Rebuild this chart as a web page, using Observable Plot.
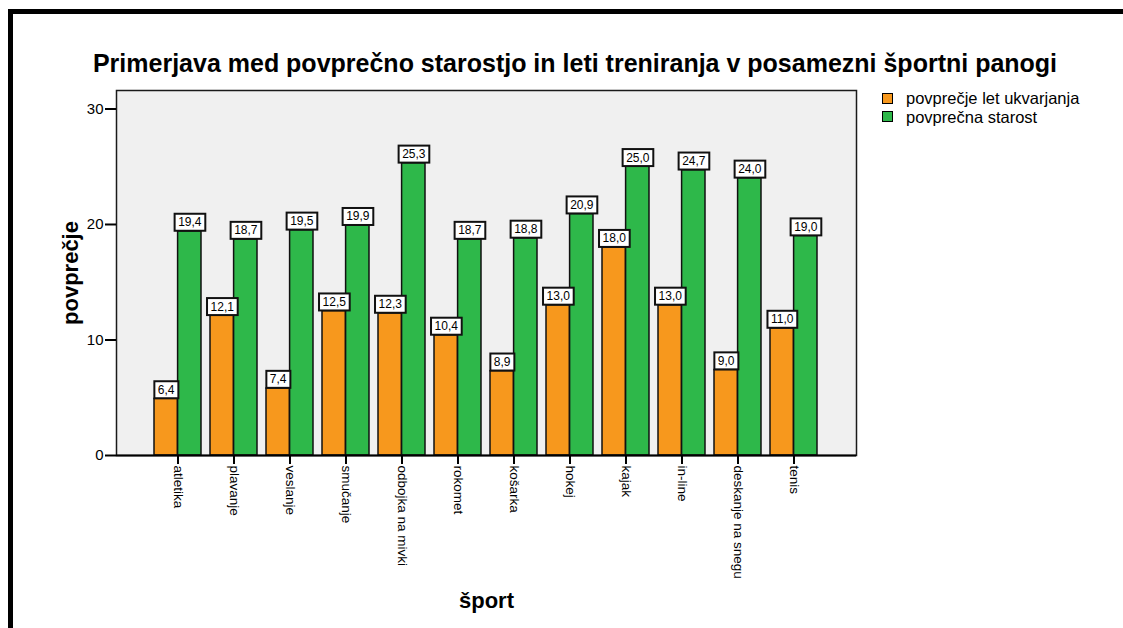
<!DOCTYPE html>
<html><head><meta charset="utf-8">
<script src="https://cdn.jsdelivr.net/npm/d3@7"></script>
<script src="https://cdn.jsdelivr.net/npm/@observablehq/plot@0.6"></script>
<style>
body{margin:0;background:#fff;}
#wrap{position:relative;width:1123px;height:628px;overflow:hidden;font-family:Arial,"Liberation Sans",sans-serif;color:#000;}
#border{position:absolute;left:8px;top:9px;right:-10px;bottom:-10px;border-left:5px solid #000;border-top:5px solid #000;}
#title{position:absolute;left:0;width:1150px;top:48px;text-align:center;font-weight:bold;font-size:25px;line-height:30px;white-space:nowrap;}
#legend{position:absolute;left:882px;top:89px;font-size:16.5px;line-height:18.5px;}
#legend .item{display:flex;align-items:center;white-space:nowrap;}
#legend .sw{width:9px;height:9px;border:1.5px solid #000;margin-right:13px;}
#chart{position:absolute;left:0;top:0;}
g[aria-label="y-axis label"] text, g[aria-label="x-axis label"] text{font-weight:bold;font-size:22px;}
g[aria-label="y-axis tick"], g[aria-label="x-axis tick"]{stroke-width:2px;}
</style>
</head><body>
<div id="wrap">
  <div id="border"></div>
  <div id="chart"></div>
  <div id="title"></div>
  <div id="legend"></div>
</div>
<script>
const titleText = "Primerjava med povprečno starostjo in leti treniranja v posamezni športni panogi";
const sports = ["atletika","plavanje","veslanje","smučanje","odbojka na mivki","rokomet","košarka","hokej","kajak","in-line","deskanje na snegu","tenis"];
const seriesNames = ["povprečje let ukvarjanja","povprečna starost"];
const seriesColors = ["#F7981D","#2EB84A"];
// bar heights as drawn in the picture
const yearsBar = [4.9,12.1,5.8,12.5,12.3,10.4,7.3,13.0,18.0,13.0,7.4,11.0];
// values printed in the label boxes
const yearsLabel = [6.4,12.1,7.4,12.5,12.3,10.4,8.9,13.0,18.0,13.0,9.0,11.0];
const ageBar = [19.4,18.7,19.5,19.9,25.3,18.7,18.8,20.9,25.0,24.7,24.0,19.0];
const ageLabel = [19.4,18.7,19.5,19.9,25.3,18.7,18.8,20.9,25.0,24.7,24.0,19.0];
const yTicks = [0,10,20,30];

document.getElementById("title").textContent = titleText;
const leg = document.getElementById("legend");
seriesNames.forEach((n,i)=>{
  const it = document.createElement("div"); it.className="item";
  const sw = document.createElement("div"); sw.className="sw"; sw.style.background=seriesColors[i];
  const t = document.createElement("span"); t.textContent=n;
  it.appendChild(sw); it.appendChild(t); leg.appendChild(it);
});

const W=1123,H=628,mL=116,mR=267,mT=90,mB=173;
const pI=0.16, pO=0.665;
const step=(W-mL-mR)/(sports.length - pI + 2*pO);
const bw=step*(1-pI);
const years = sports.map((s,i)=>({sport:s, v:yearsBar[i], lab:yearsLabel[i]}));
const ages = sports.map((s,i)=>({sport:s, v:ageBar[i], lab:ageLabel[i]}));
const fmt = v => v.toFixed(1).replace(".", ",");

const chart = Plot.plot({
  width:W, height:H, marginLeft:mL, marginRight:mR, marginTop:mT, marginBottom:mB,
  style:{fontFamily:'Arial, "Liberation Sans", sans-serif', fontSize:"13px", background:"transparent", color:"#000", overflow:"visible"},
  x:{domain:sports, paddingInner:pI, paddingOuter:pO},
  y:{domain:[0,31.6]},
  marks:[
    Plot.frame({fill:"#f0f0f0", stroke:null}),
    Plot.barY(years,{x:"sport", y:"v", fill:seriesColors[0], stroke:"#111", strokeWidth:1.5, insetRight:bw/2}),
    Plot.barY(ages,{x:"sport", y:"v", fill:seriesColors[1], stroke:"#111", strokeWidth:1.5, insetLeft:bw/2}),
    Plot.frame({stroke:"#1a1a1a", strokeWidth:1.5}),
    Plot.ruleY([0],{stroke:"#000", strokeWidth:2}),
    Plot.axisY({ticks:yTicks, tickSize:11, tickPadding:2, fontSize:15, label:"povprečje", labelAnchor:"center", labelArrow:"none", labelOffset:54}),
    Plot.axisX({tickSize:9, tickRotate:90, tickPadding:1, fontSize:13.5, label:"šport", labelAnchor:"center", labelArrow:"none", labelOffset:152}),
    Plot.text(years,{x:"sport", y:"v", text:d=>fmt(d.lab), dx:-bw/4, dy:-9, fontSize:12, fill:"#000"}),
    Plot.text(ages,{x:"sport", y:"v", text:d=>fmt(d.lab), dx:bw/4, dy:-9, fontSize:12, fill:"#000"})
  ]
});
document.getElementById("chart").appendChild(chart);

// white boxes behind value labels
chart.querySelectorAll('g[aria-label="text"] text').forEach(t=>{
  const b = t.getBBox();
  const cy = b.y + b.height/2;
  const r = document.createElementNS("http://www.w3.org/2000/svg","rect");
  r.setAttribute("x", b.x-3.5);
  r.setAttribute("y", cy-8.5);
  r.setAttribute("width", b.width+7);
  r.setAttribute("height", 17);
  r.setAttribute("fill","#fff");
  r.setAttribute("stroke","#111");
  r.setAttribute("stroke-width","2");
  if (t.getAttribute("transform")) r.setAttribute("transform", t.getAttribute("transform"));
  t.parentNode.insertBefore(r, t);
});
</script>
</body></html>
